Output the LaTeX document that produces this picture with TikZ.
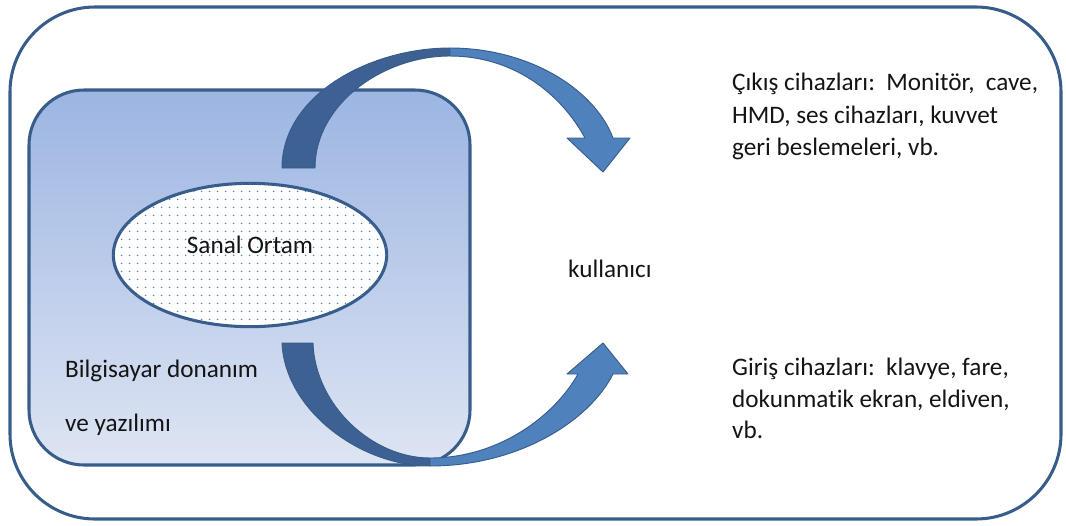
\documentclass[tikz,border=0pt]{standalone}
\usepackage{fontspec}
\setmainfont[Ligatures=NoCommon]{Carlito}
\usepackage{tikz}
\usetikzlibrary{shapes.geometric,patterns.meta}
\definecolor{kenar}{RGB}{56,93,138}
\definecolor{koyuok}{RGB}{60,97,146}
\definecolor{acikok}{RGB}{79,129,189}
\definecolor{kutuust}{RGB}{156,181,226}
\definecolor{kutualt}{RGB}{222,229,243}
\definecolor{nokta}{RGB}{79,129,189}
\definecolor{yazirenk}{RGB}{20,20,20}

\begin{document}
\begin{tikzpicture}[
  x=0.03cm, y=-0.03cm,
  cerceve/.style={draw=kenar, line width=2.6pt, rounded corners=2.55cm},
  kutu/.style={draw=kenar, line width=2.6pt, rounded corners=1.65cm,
    top color=kutuust, bottom color=kutualt},
  okkoyu/.style={fill=koyuok, draw=kenar, line width=0.8pt, line join=round},
  okacik/.style={fill=acikok, draw=kenar, line width=0.8pt, line join=round},
  yazi/.style={font=\fontsize{21.5pt}{26pt}\selectfont, text=yazirenk,
    inner sep=0pt, anchor=base west},
]
  \useasboundingbox (0,0) rectangle (1066,525);

  % outer frame and computer box
  \draw[cerceve] (10,7) rectangle (1061,519);
  \draw[kutu] (29,90) rectangle (470,465);

  % virtual environment
  \node[ellipse, draw=kenar, line width=2.6pt, fill=white,
    minimum width=8.2cm, minimum height=4.3cm, inner sep=0pt,
    postaction={pattern={Dots[distance=6.5pt, radius=0.7pt]}, pattern color=nokta}]
    (ortam) at (250,255) {};
  \node[yazi, anchor=base] (ortamyazi) at (250,253) {Sanal Ortam};

  % output arrow (top)
  \draw[okkoyu] (282,168) .. controls (282,95) and (370,48) .. (450,48)
    -- (450,56) .. controls (382,56) and (315,105) .. (315,168) -- cycle;
  \draw[okacik] (450,48) .. controls (530,48) and (595,90) .. (613,138)
    -- (630,138) -- (603,172) -- (567,138) -- (585,138)
    .. controls (560,92) and (512,56) .. (450,56) -- cycle;

  % input arrow (bottom)
  \draw[okkoyu] (282,343) .. controls (285,410) and (360,466) .. (430,466)
    -- (430,458) .. controls (372,458) and (315,405) .. (313,343) -- cycle;
  \draw[okacik] (430,466) .. controls (520,466) and (590,420) .. (613,374)
    -- (628,374) -- (603,343) -- (567,374) -- (578,374)
    .. controls (555,415) and (500,458) .. (430,458) -- cycle;

  % labels
  \node[yazi] (bilg1) at (65,377) {Bilgisayar donanım};
  \node[yazi] (bilg2) at (65,431) {ve yazılımı};
  \node[yazi] (kullanici) at (568,277) {kullanıcı};

  \node[yazi] (cikis1) at (732,90) {Çıkış cihazları:\ \ Monitör,\ \ cave,};
  \node[yazi] (cikis2) at (732,123) {HMD, ses cihazları, kuvvet};
  \node[yazi] (cikis3) at (732,155) {geri beslemeleri, vb.};

  \node[yazi] (giris1) at (732,375) {Giriş cihazları:\ \ klavye, fare,};
  \node[yazi] (giris2) at (732,407) {dokunmatik ekran, eldiven,};
  \node[yazi] (giris3) at (732,438) {vb.};
\end{tikzpicture}
\end{document}
